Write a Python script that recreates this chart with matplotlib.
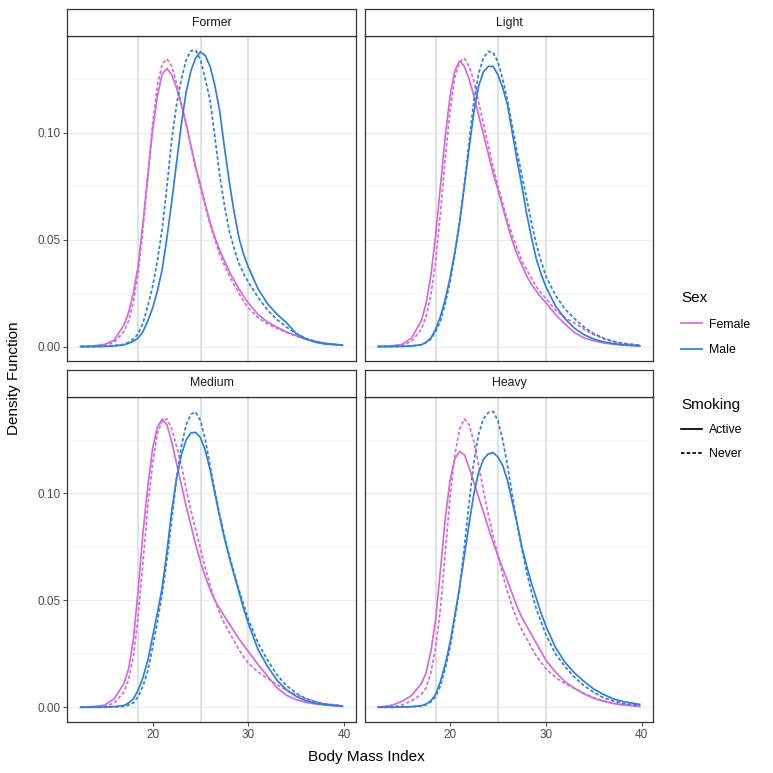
import numpy as np
import matplotlib.pyplot as plt
from matplotlib.lines import Line2D

plt.rcParams['font.family'] = ['Liberation Sans', 'DejaVu Sans']

bmi = [12.5, 13, 14, 15, 16, 17, 17.5, 18, 18.5, 19, 19.5, 20, 20.5, 21, 21.5, 22,
       22.5, 23, 23.5, 24, 24.5, 25, 25.5, 26, 26.5, 27, 27.5, 28, 28.5, 29, 29.5,
       30, 31, 32, 33, 34, 35, 36, 37, 38, 39.8]

former_female_active = [0.0, 0.0001, 0.0004, 0.001, 0.003, 0.010, 0.016, 0.025, 0.038, 0.058, 0.080,
                        0.101, 0.117, 0.1275, 0.130, 0.127, 0.121, 0.113, 0.104, 0.094, 0.084,
                        0.0755, 0.0665, 0.058, 0.051, 0.045, 0.040, 0.035, 0.031, 0.027, 0.0235,
                        0.0203, 0.015, 0.0115, 0.009, 0.0068, 0.005, 0.0035, 0.0024, 0.0015, 0.0007]
former_female_never = [0.0, 0.0, 0.0002, 0.0005, 0.002, 0.007, 0.012, 0.021, 0.035, 0.055, 0.080,
                       0.104, 0.122, 0.132, 0.1345, 0.131, 0.123, 0.114, 0.104, 0.093, 0.083,
                       0.074, 0.0655, 0.057, 0.050, 0.043, 0.038, 0.033, 0.029, 0.025, 0.021,
                       0.018, 0.0135, 0.0105, 0.0085, 0.0065, 0.0048, 0.0034, 0.0023, 0.0014, 0.0006]
former_male_active = [0.0, 0.0, 0.0, 0.0001, 0.0003, 0.0008, 0.0015, 0.0025, 0.004, 0.007, 0.012,
                      0.018, 0.026, 0.036, 0.051, 0.068, 0.086, 0.104, 0.119, 0.129, 0.135,
                      0.1378, 0.136, 0.131, 0.122, 0.110, 0.093, 0.077, 0.063, 0.051, 0.043,
                      0.037, 0.027, 0.020, 0.015, 0.011, 0.006, 0.0035, 0.002, 0.0012, 0.0006]
former_male_never = [0.0, 0.0, 0.0, 0.0002, 0.0005, 0.001, 0.002, 0.0035, 0.006, 0.011, 0.019,
                     0.028, 0.040, 0.055, 0.075, 0.097, 0.113, 0.125, 0.134, 0.1383, 0.1385,
                     0.134, 0.125, 0.115, 0.098, 0.080, 0.066, 0.054, 0.046, 0.039, 0.034,
                     0.030, 0.023, 0.017, 0.0125, 0.009, 0.006, 0.0038, 0.0024, 0.0014, 0.0006]

light_female_active = [0.0, 0.0001, 0.0004, 0.001, 0.004, 0.012, 0.020, 0.033, 0.052, 0.075, 0.098,
                       0.117, 0.129, 0.1335, 0.131, 0.125, 0.117, 0.108, 0.099, 0.090, 0.081,
                       0.0734, 0.065, 0.057, 0.0495, 0.043, 0.038, 0.033, 0.029, 0.026, 0.023,
                       0.0205, 0.015, 0.0105, 0.0065, 0.004, 0.0027, 0.0017, 0.0011, 0.0007, 0.0003]
light_female_never = [0.0, 0.0, 0.0002, 0.0005, 0.0025, 0.008, 0.014, 0.024, 0.040, 0.062, 0.088,
                      0.110, 0.126, 0.133, 0.1348, 0.131, 0.124, 0.114, 0.104, 0.094, 0.084,
                      0.075, 0.067, 0.059, 0.052, 0.046, 0.040, 0.036, 0.032, 0.028, 0.025,
                      0.0225, 0.017, 0.0135, 0.011, 0.008, 0.0055, 0.0037, 0.0024, 0.0015, 0.0006]
light_male_active = [0.0, 0.0, 0.0, 0.0001, 0.0003, 0.0008, 0.002, 0.004, 0.008, 0.014, 0.022,
                     0.032, 0.044, 0.058, 0.075, 0.093, 0.110, 0.122, 0.1285, 0.131, 0.131,
                     0.127, 0.121, 0.113, 0.100, 0.087, 0.075, 0.062, 0.051, 0.041, 0.034,
                     0.028, 0.019, 0.013, 0.0085, 0.0055, 0.0035, 0.0022, 0.0014, 0.0008, 0.0003]
light_male_never = [0.0, 0.0, 0.0, 0.0001, 0.0003, 0.0008, 0.0018, 0.0035, 0.007, 0.012, 0.020,
                    0.030, 0.043, 0.058, 0.076, 0.096, 0.115, 0.128, 0.135, 0.138, 0.1375,
                    0.133, 0.125, 0.115, 0.103, 0.091, 0.080, 0.069, 0.058, 0.048, 0.040,
                    0.033, 0.024, 0.0175, 0.013, 0.009, 0.006, 0.004, 0.0025, 0.0015, 0.0006]

medium_female_active = [0.0, 0.0001, 0.0004, 0.001, 0.004, 0.011, 0.018, 0.032, 0.055, 0.082, 0.103,
                        0.121, 0.131, 0.1348, 0.132, 0.124, 0.114, 0.104, 0.094, 0.085, 0.076,
                        0.068, 0.061, 0.055, 0.050, 0.046, 0.0425, 0.039, 0.0355, 0.032, 0.029,
                        0.026, 0.020, 0.0145, 0.009, 0.0055, 0.0035, 0.0023, 0.0015, 0.001, 0.0004]
medium_female_never = [0.0, 0.0, 0.0001, 0.0003, 0.002, 0.007, 0.013, 0.024, 0.043, 0.068, 0.094,
                       0.114, 0.128, 0.134, 0.1348, 0.130, 0.122, 0.113, 0.102, 0.092, 0.083,
                       0.074, 0.065, 0.057, 0.050, 0.044, 0.039, 0.035, 0.031, 0.027, 0.0235,
                       0.0205, 0.0165, 0.0135, 0.0105, 0.008, 0.0058, 0.004, 0.0026, 0.0016, 0.0007]
medium_male_active = [0.0, 0.0, 0.0, 0.0001, 0.0003, 0.0008, 0.002, 0.004, 0.008, 0.014, 0.022,
                      0.033, 0.044, 0.056, 0.073, 0.092, 0.107, 0.118, 0.125, 0.1283, 0.1285,
                      0.126, 0.120, 0.111, 0.100, 0.089, 0.079, 0.070, 0.062, 0.054, 0.046,
                      0.039, 0.027, 0.019, 0.0125, 0.008, 0.005, 0.003, 0.0019, 0.0012, 0.0005]
medium_male_never = [0.0, 0.0, 0.0, 0.0, 0.0001, 0.0004, 0.001, 0.002, 0.005, 0.010, 0.017,
                     0.028, 0.040, 0.053, 0.069, 0.088, 0.107, 0.122, 0.132, 0.137, 0.138,
                     0.134, 0.125, 0.113, 0.101, 0.090, 0.080, 0.071, 0.063, 0.055, 0.048,
                     0.041, 0.030, 0.022, 0.015, 0.010, 0.0065, 0.004, 0.0025, 0.0015, 0.0006]

heavy_female_active = [0.0001, 0.0003, 0.001, 0.0028, 0.0055, 0.011, 0.016, 0.026, 0.041, 0.064, 0.088,
                       0.106, 0.116, 0.1197, 0.118, 0.112, 0.105, 0.098, 0.091, 0.084, 0.077,
                       0.071, 0.065, 0.059, 0.053, 0.047, 0.042, 0.038, 0.034, 0.030, 0.026,
                       0.022, 0.0165, 0.012, 0.0088, 0.0062, 0.0042, 0.0028, 0.0018, 0.0011, 0.0004]
heavy_female_never = [0.0, 0.0, 0.0002, 0.001, 0.003, 0.006, 0.009, 0.016, 0.028, 0.046, 0.072,
                      0.098, 0.118, 0.130, 0.1348, 0.132, 0.124, 0.113, 0.101, 0.090, 0.080,
                      0.071, 0.062, 0.054, 0.047, 0.041, 0.036, 0.032, 0.028, 0.024, 0.021,
                      0.018, 0.014, 0.011, 0.0088, 0.0065, 0.0045, 0.003, 0.002, 0.0012, 0.0005]
heavy_male_active = [0.0, 0.0, 0.0, 0.0001, 0.0003, 0.0007, 0.0015, 0.003, 0.006, 0.012, 0.020,
                     0.030, 0.043, 0.056, 0.071, 0.086, 0.100, 0.110, 0.116, 0.1185, 0.119,
                     0.117, 0.113, 0.106, 0.096, 0.086, 0.075, 0.066, 0.058, 0.051, 0.044,
                     0.038, 0.028, 0.021, 0.016, 0.012, 0.0085, 0.006, 0.004, 0.0027, 0.0013]
heavy_male_never = [0.0, 0.0, 0.0, 0.0001, 0.0002, 0.0005, 0.0012, 0.0025, 0.005, 0.010, 0.018,
                    0.028, 0.041, 0.056, 0.075, 0.096, 0.115, 0.128, 0.135, 0.1378, 0.1383,
                    0.134, 0.125, 0.113, 0.099, 0.086, 0.074, 0.063, 0.054, 0.046, 0.040,
                    0.034, 0.025, 0.019, 0.014, 0.010, 0.007, 0.0045, 0.003, 0.0018, 0.0008]

panels = ['Former', 'Light', 'Medium', 'Heavy']
sexes = ['Female', 'Male']
smoking = ['Active', 'Never']
curves = {
    'Former': [former_female_active, former_female_never, former_male_active, former_male_never],
    'Light': [light_female_active, light_female_never, light_male_active, light_male_never],
    'Medium': [medium_female_active, medium_female_never, medium_male_active, medium_male_never],
    'Heavy': [heavy_female_active, heavy_female_never, heavy_male_active, heavy_male_never],
}
cutoffs = [18.5, 25, 30]

sex_col = {'Female': '#D26DD8', 'Male': '#3180D4'}
smk_ls = {'Active': '-', 'Never': (0, (2.0, 1.3))}
lw = 1.25

W = 773.0
fig = plt.figure(figsize=(7.73, 7.73), dpi=100)

# panel boxes in pixels: (left, top)
pw, ph, sh = 288.5, 325.3, 26.7
boxes = [(67.3, 36.0), (364.7, 36.0), (67.3, 396.7), (364.7, 396.7)]

for i, name in enumerate(panels):
    l, t = boxes[i]
    ax = fig.add_axes([l / W, 1 - (t + ph) / W, pw / W, ph / W])
    strip = fig.add_axes([l / W, 1 - t / W, pw / W, sh / W])
    strip.set_xticks([])
    strip.set_yticks([])
    for s in strip.spines.values():
        s.set_color('#333333')
        s.set_linewidth(0.9)
    strip.text(0.5, 0.5, name, ha='center', va='center', fontsize=8.8, color='#1A1A1A',
               transform=strip.transAxes)

    ax.set_xlim(11.1, 41.2)
    ax.set_ylim(-0.0069, 0.1452)
    ax.set_yticks([0.0, 0.05, 0.10])
    ax.set_yticks([0.025, 0.075, 0.125], minor=True)
    ax.set_xticks([20, 30, 40])
    ax.grid(axis='y', which='major', color='#EBEFEF', lw=0.9, zorder=0)
    ax.grid(axis='y', which='minor', color='#F4F6F6', lw=0.6, zorder=0)
    ax.tick_params(which='minor', length=0)
    ax.tick_params(which='major', length=2.75, width=0.6, color='#333333',
                   labelsize=8.5, labelcolor='#4D4D4D', pad=2.2)
    for s in ax.spines.values():
        s.set_color('#333333')
        s.set_linewidth(0.9)
    ax.set_axisbelow(True)

    for c in cutoffs:
        ax.axvline(c, color='#D8E1E1', lw=1.3, zorder=1)

    k = 0
    for sx in sexes:
        for sm in smoking:
            ax.plot(bmi, curves[name][k], color=sex_col[sx], ls=smk_ls[sm], lw=lw, zorder=3)
            k += 1

    # facet_wrap style: only outer panels carry ticks
    if i % 2 == 1:
        ax.tick_params(axis='y', left=False, labelleft=False)
    if i < 2:
        ax.tick_params(axis='x', bottom=False, labelbottom=False)

fig.text(14 / W, 1 - 378 / W, 'Density Function', rotation=90, ha='center', va='center',
         fontsize=11)
fig.text(366 / W, 1 - 757 / W, 'Body Mass Index', ha='center', va='center', fontsize=11)

sex_handles = [Line2D([], [], color=sex_col[s], lw=lw) for s in sexes]
smk_handles = [Line2D([], [], color='black', lw=lw, ls=smk_ls[s]) for s in smoking]
leg_kw = dict(loc='upper left', frameon=False, fontsize=8.8, title_fontsize=11,
              handlelength=1.75, handletextpad=0.55,
              borderpad=0, borderaxespad=0, alignment='left')
fig.legend(sex_handles, sexes, title='Sex', labelspacing=1.12,
           bbox_to_anchor=(681 / W, 1 - 291 / W), **leg_kw)
fig.legend(smk_handles, smoking, title='Smoking', labelspacing=1.0,
           bbox_to_anchor=(681 / W, 1 - 398 / W), **leg_kw)

fig.savefig('out.png', dpi=100)
